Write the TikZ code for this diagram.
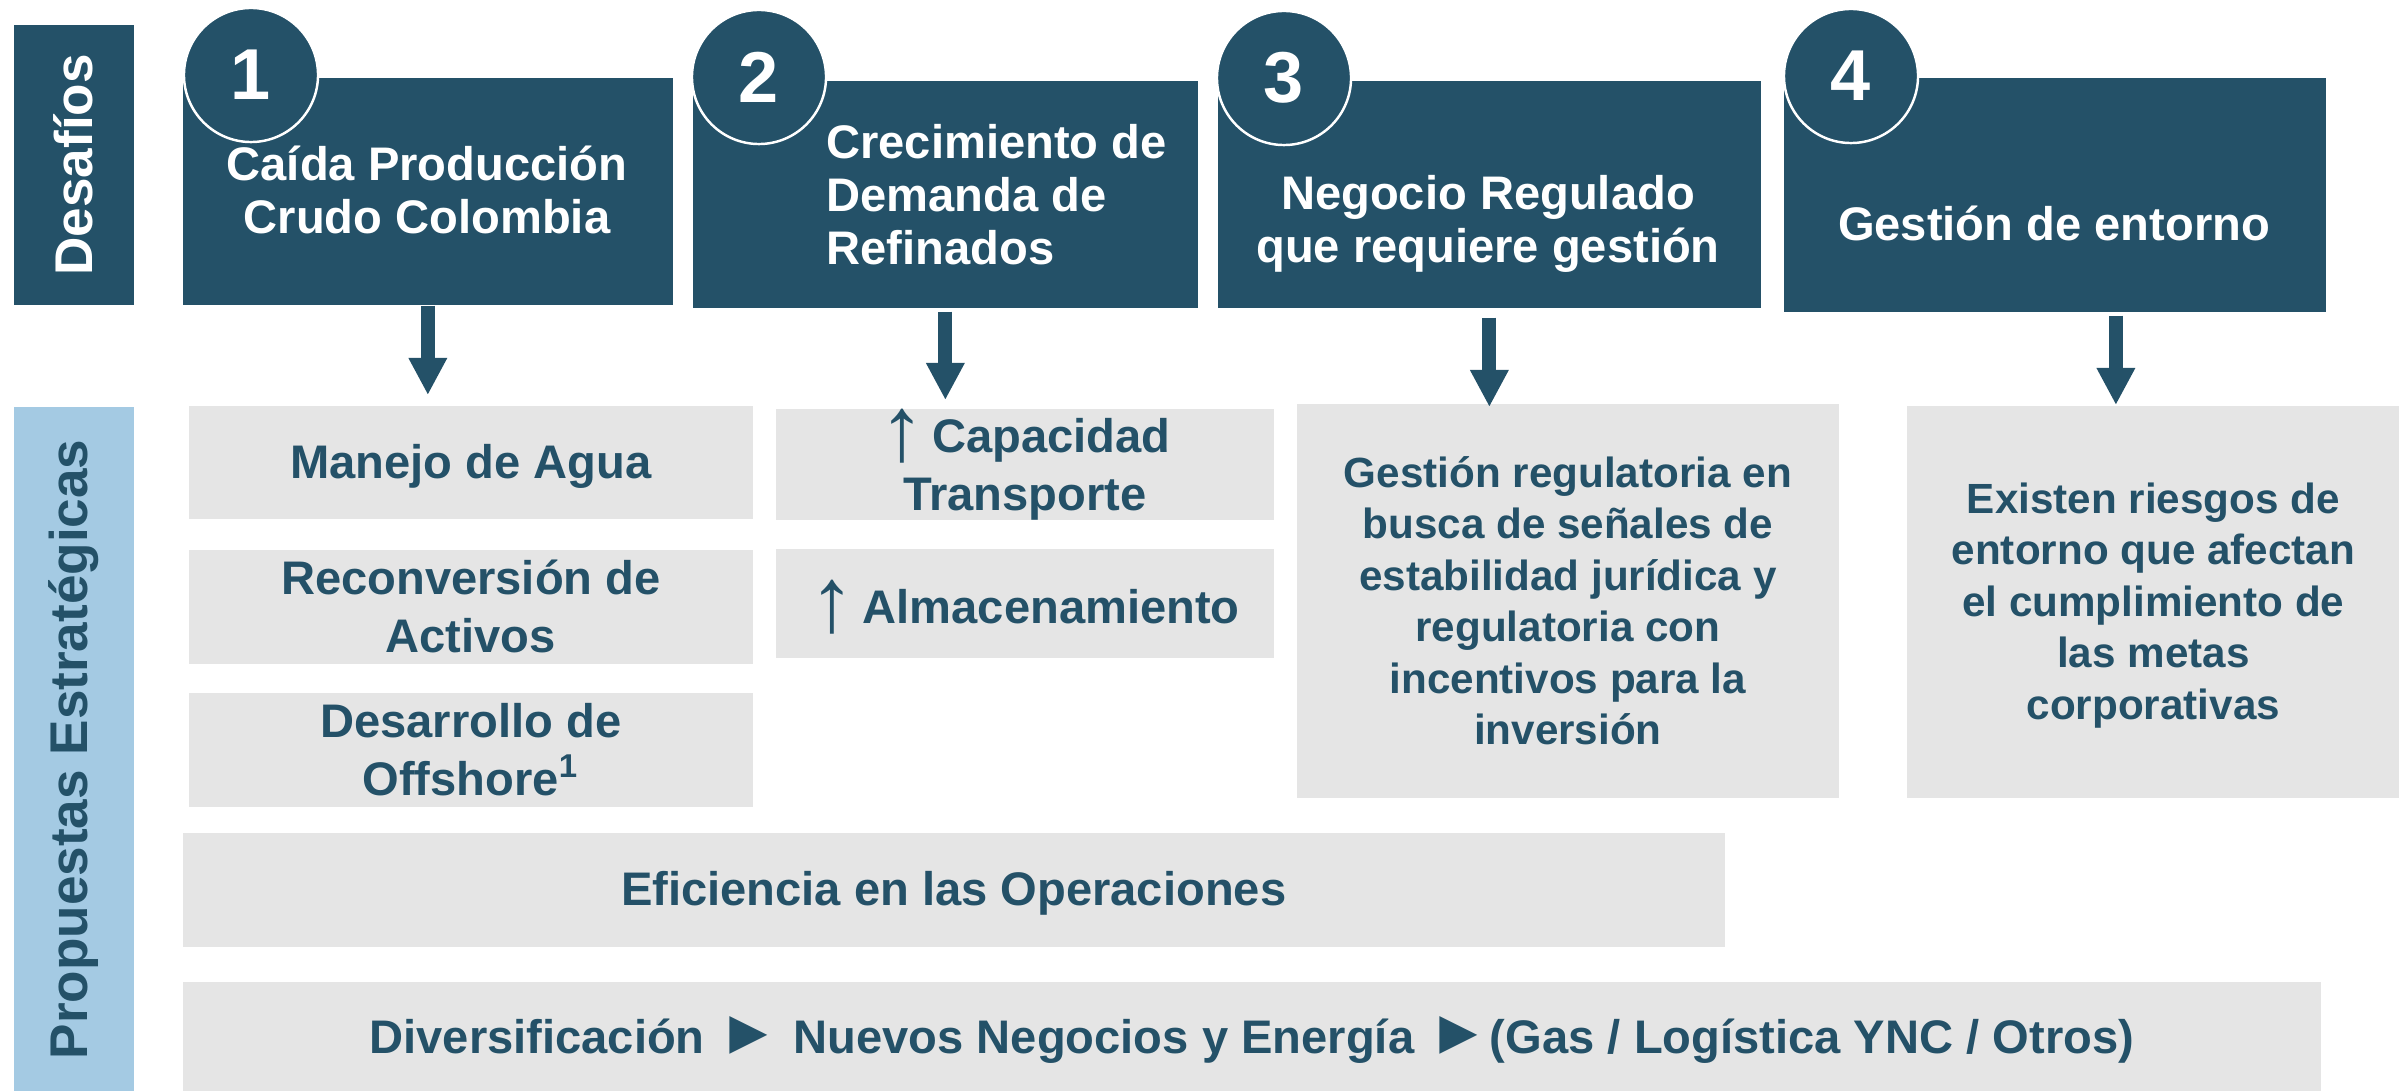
\documentclass[tikz,border=0pt]{standalone}
\usepackage{fontspec}
\setmainfont{Liberation Sans}
\usetikzlibrary{arrows.meta}

\definecolor{azul}{RGB}{36,81,104}
\definecolor{celeste}{RGB}{164,202,227}
\definecolor{gris}{RGB}{229,229,229}

\newcommand{\sube}{\raisebox{-0.08cm}{\mdseries\fontsize{26}{16}\selectfont↑}\hspace{0.07cm}}
\newcommand{\punta}{{\fontsize{18}{16}\selectfont►}}

\begin{document}
\begin{tikzpicture}[x=0.01cm,y=-0.01cm]
  \tikzset{caja/.style 2 args={rectangle,anchor=north west,inner sep=0pt,minimum width=#1,minimum height=#2},
    reto/.style={fill=azul},
    prop/.style={fill=gris,text=azul,align=center,font=\bfseries\fontsize{13.4}{16.5}\selectfont},
    linea/.style={text height=0.425cm,text depth=0.10cm},
    largo/.style={font=\bfseries\fontsize{12}{14.65}\selectfont},
    titulo/.style={text=white,align=center,font=\bfseries\fontsize{13.4}{15.1}\selectfont},
    numero/.style={circle,fill=azul,draw=white,line width=0.7pt,minimum size=1.34cm,inner sep=0pt,text=white,font=\bfseries\fontsize{20.5}{24}\selectfont},
    lado/.style={rotate=90,font=\bfseries\fontsize{15.1}{18}\selectfont},
    flecha/.style={draw=azul,line width=0.14cm,-{Triangle[length=0.37cm,width=0.36cm]}}}
  \useasboundingbox (0,0) rectangle (2399,1091);

  % side labels
  \node[caja={1.20cm}{2.80cm},reto] (des) at (13,24) {};
  \node[lado,text=white] (desT) at (des.center) {Desafíos};
  \node[caja={1.20cm}{6.85cm},fill=celeste] (pro) at (13,406) {};
  \node[lado,text=azul] (proT) at (pro.center) {Propuestas Estratégicas};

  % challenges
  \node[caja={4.90cm}{2.27cm},reto] (c1) at (182,77) {};
  \node[caja={5.05cm}{2.27cm},reto] (c2) at (692,80) {};
  \node[caja={5.43cm}{2.27cm},reto] (c3) at (1217,80) {};
  \node[caja={5.42cm}{2.34cm},reto] (c4) at (1783,77) {};
  \foreach \n/\x/\y in {1/251/75,2/759/77,3/1284/78,4/1851/76}
    \node[numero] (n\n) at (\x,\y) {\n};
  \node[titulo] (t1) at (427,190) {Caída Producción\\Crudo Colombia};
  \node[titulo,align=left,anchor=west] (t2) at (814,195) {Crecimiento de\\Demanda de\\Refinados};
  \node[titulo] (t3) at (1488,224) {Negocio Regulado\\que requiere gestión};
  \node[titulo] (t4) at (2054,223) {Gestión de entorno};

  % proposals
  \node[caja={5.64cm}{1.13cm},prop,linea] (p1a) at (188,405) {Manejo de Agua};
  \node[caja={5.64cm}{1.14cm},prop] (p1b) at (188,549) {Reconversión de\\Activos};
  \node[caja={5.64cm}{1.14cm},prop] (p1c) at (188,692) {Desarrollo de\\Offshore\textsuperscript{1}};
  \node[caja={4.98cm}{1.09cm},prop] (p2a) at (775,408) {\sube Capacidad\\Transporte};
  \node[caja={4.98cm}{1.09cm},prop,linea,text depth=0.02cm] (p2b) at (775,548) {\sube Almacenamiento};
  \node[caja={5.42cm}{3.94cm},prop,largo] (p3) at (1296,403)
    {Gestión regulatoria en\\busca de señales de\\estabilidad jurídica y\\regulatoria con\\incentivos para la\\inversión};
  \node[caja={4.93cm}{3.92cm},prop,largo] (p4) at (1906,405)
    {\vphantom{Á}Existen riesgos de\\entorno que afectan\\el cumplimiento de\\las metas\\corporativas};
  \node[caja={15.41cm}{1.14cm},prop,linea] (p5) at (182,832) {Eficiencia en las Operaciones};
  \node[caja={21.37cm}{1.10cm},prop,linea] (p6) at (182,981)
    {Diversificación \punta\ Nuevos Negocios y Energía \punta(Gas / Logística YNC / Otros)};

  % arrows
  \draw[flecha,shorten >=0.10cm] (c1.south) -- (c1.south |- p1a.north);
  \draw[flecha,shorten <=0.03cm,shorten >=0.08cm] (c2.south) -- (c2.south |- p2a.north);
  \draw[flecha,shorten <=0.09cm,shorten >=-0.04cm] (c3.south) -- (c3.south |- p3.north);
  \draw[flecha,shorten <=0.03cm] ([xshift=0.61cm]c4.south) -- ([xshift=0.61cm]c4.south |- p4.north);
\end{tikzpicture}
\end{document}
